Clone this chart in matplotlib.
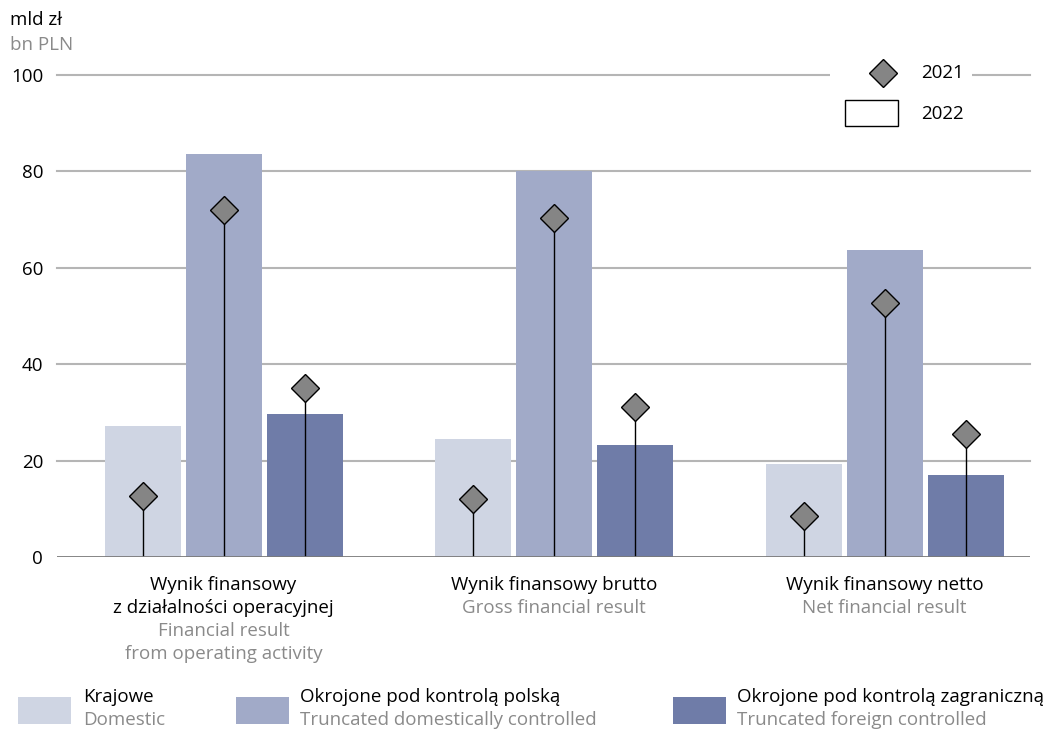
import matplotlib
matplotlib.use('Agg')
import matplotlib.pyplot as plt
from matplotlib.lines import Line2D
from matplotlib.patches import Rectangle

plt.rcParams['font.family'] = ['Open Sans', 'DejaVu Sans']

# data
groups_pl = ['Wynik finansowy\nz działalności operacyjnej', 'Wynik finansowy brutto', 'Wynik finansowy netto']
groups_en = ['Financial result\nfrom operating activity', 'Gross financial result', 'Net financial result']
series_pl = ['Krajowe', 'Okrojone pod kontrolą polską', 'Okrojone pod kontrolą zagraniczną']
series_en = ['Domestic', 'Truncated domestically controlled', 'Truncated foreign controlled']
vals_2022 = [[27.2, 24.5, 19.3],
             [83.7, 80.0, 63.6],
             [29.6, 23.3, 17.1]]
vals_2021 = [[12.6, 12.0, 8.5],
             [71.9, 70.4, 52.8],
             [35.1, 31.1, 25.6]]
yticks = [0, 20, 40, 60, 80, 100]

colors = ['#cfd5e3', '#a1aac8', '#6f7ca8']
grey_txt = '#8a8a8a'
FS = 13.5

W, H = 1051, 732
fig = plt.figure(figsize=(W / 100, H / 100), dpi=100)
ax = fig.add_axes([57 / W, 1 - 557 / H, (1030 - 57) / W, (557 - 75) / H])

width = 0.23
step = 0.245
for i in range(3):
    xs = [g + (i - 1) * step for g in range(3)]
    ax.bar(xs, vals_2022[i], width=width, color=colors[i], zorder=2)
    ax.vlines(xs, 0, vals_2021[i], color='black', lw=1, zorder=3)
    ax.plot(xs, vals_2021[i], ls='none', marker='D', ms=14.5, mfc='#858585',
            mec='black', mew=1, zorder=4)

ax.set_xlim(-0.504, 2.44)
ax.set_ylim(0, 100)
for y in yticks[1:]:
    ax.axhline(y, color='#b5b5b5', lw=1.5, zorder=1, clip_on=False)
ax.axhline(0, color='#7a7a7a', lw=2, zorder=5)
for s in ax.spines.values():
    s.set_visible(False)
ax.set_yticks(yticks)
ax.tick_params(axis='y', length=0, pad=10, labelsize=FS)
ax.set_xticks([])

# category labels under groups
for g in range(3):
    xf = fig.transFigure.inverted().transform(ax.transData.transform((g, 0)))[0]
    yy = 585
    for t in groups_pl[g].split('\n'):
        fig.text(xf, 1 - yy / H, t, ha='center', va='center', fontsize=FS, color='black')
        yy += 23
    for t in groups_en[g].split('\n'):
        fig.text(xf, 1 - yy / H, t, ha='center', va='center', fontsize=FS, color=grey_txt)
        yy += 23

# unit labels
fig.text(10 / W, 1 - 20 / H, 'mld zł', fontsize=FS, va='center', color='black')
fig.text(10 / W, 1 - 45 / H, 'bn PLN', fontsize=FS, va='center', color=grey_txt)

# top-right legend
fig.add_artist(Rectangle((830 / W, 1 - 135 / H), 142 / W, 80 / H,
                         transform=fig.transFigure, facecolor='white', edgecolor='none', zorder=6))
fig.add_artist(Line2D([883 / W], [1 - 73 / H], transform=fig.transFigure, marker='D', ms=14.5,
                      mfc='#858585', mec='black', mew=1, ls='none', zorder=7))
fig.add_artist(Rectangle((845 / W, 1 - 126 / H), 53 / W, 26 / H, transform=fig.transFigure,
                         facecolor='white', edgecolor='black', lw=1, zorder=7))
fig.text(921 / W, 1 - 73 / H, '2021', fontsize=FS, va='center', zorder=8)
fig.text(921 / W, 1 - 114 / H, '2022', fontsize=FS, va='center', zorder=8)

# bottom legend
patch_x = [18, 236, 673]
text_x = [83, 300, 737]
for i in range(3):
    fig.add_artist(Rectangle((patch_x[i] / W, 1 - 724 / H), 53 / W, 27 / H,
                             transform=fig.transFigure, facecolor=colors[i], edgecolor='none'))
    fig.text(text_x[i] / W, 1 - 697 / H, series_pl[i], fontsize=FS, va='center', color='black')
    fig.text(text_x[i] / W, 1 - 720 / H, series_en[i], fontsize=FS, va='center', color=grey_txt)

fig.savefig('out.png', dpi=100)
